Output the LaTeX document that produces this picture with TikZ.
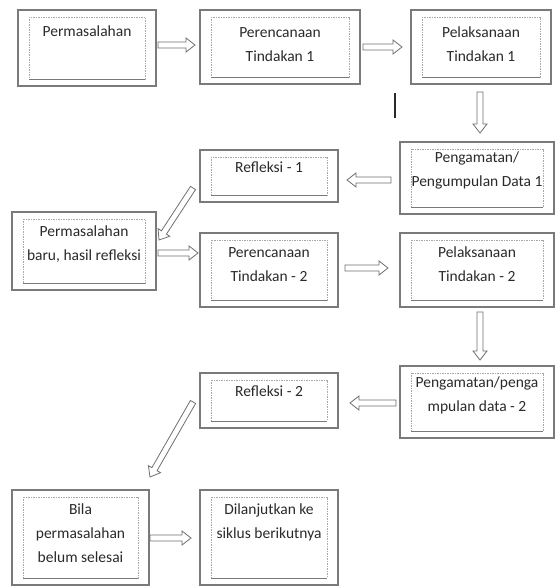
\documentclass[tikz,border=0pt]{standalone}
\usepackage{fontspec}
\setmainfont{Carlito}
\usetikzlibrary{calc}
\definecolor{boxgray}{HTML}{7A7A7A}
\definecolor{innergray}{HTML}{A8A8A8}
\definecolor{textgray}{HTML}{2A2A2A}
\definecolor{arrowgray}{HTML}{707070}
\tikzset{
  outerbox/.style={draw=boxgray, line width=1.2pt, inner sep=0pt, outer sep=0pt, rectangle},
  innerbox/.style={draw=innergray, line width=0.5pt, dash pattern=on 1.5pt off 1pt},
  innerbottom/.style={draw=boxgray, line width=0.8pt},
  txt/.style={font=\fontsize{15.5}{24}\selectfont, align=center, inner sep=0pt, text=textgray},
  blockarrow/.style={draw=arrowgray, fill=white, line width=0.8pt, line join=miter,
    to path={let \p1=(\tikztostart), \p2=(\tikztotarget),
      \n1={atan2(\y2-\y1,\x2-\x1)}, \n2={veclen(\x2-\x1,\y2-\y1)} in
      (\p1) ++(\n1+90:3) -- ++(\n1:\n2-9) -- ++(\n1+90:4) -- (\p2)
      -- ($(\p1)+(\n1:\n2-9)+(\n1-90:7)$) -- ++(\n1+90:4)
      -- ($(\p1)+(\n1-90:3)$) -- cycle}}
}
\newcommand\mkbox[7]{%
  \node[outerbox, minimum width={#4-#2}, minimum height={#5-#3}] (#1) at ({(#2+#4)/2},{586-(#3+#5)/2}) {};
  \draw[innerbox] ([shift={(11,-7)}]#1.north west) rectangle ([shift={(-11,7)}]#1.south east);
  \draw[innerbottom] ([shift={(11,7)}]#1.south west) -- ([shift={(-11,7)}]#1.south east);
  \node[txt, anchor=north] (#1-t) at ({(#2+#4)/2},{586-(#7-6)}) {#6};
}
\begin{document}
\begin{tikzpicture}[x=1pt,y=1pt]
\useasboundingbox[fill=white] (0,0) rectangle (555,586);

\mkbox{perm}{18}{10}{156}{86}{Permasalahan}{32}
\mkbox{per1}{200}{10}{360}{84}{Perencanaan\\Tindakan 1}{33}
\mkbox{pel1}{411}{10}{551}{84}{Pelaksanaan\\Tindakan 1}{33}
\mkbox{refl1}{200}{150}{338}{202}{Refleksi - 1}{168}
\mkbox{pg1}{400}{142}{554}{214}{Pengamatan/\\Pengumpulan Data 1}{158}
\mkbox{baru}{12}{212}{156}{290}{Permasalahan\\baru, hasil refleksi}{232}
\mkbox{per2}{200}{233}{338}{307}{Perencanaan\\Tindakan - 2}{253}
\mkbox{pel2}{400}{233}{554}{307}{Pelaksanaan\\Tindakan - 2}{253}
\mkbox{refl2}{200}{373}{338}{428}{Refleksi - 2}{392}
\mkbox{pg2}{400}{366}{554}{438}{Pengamatan/penga\\mpulan data - 2}{383}
\mkbox{bila}{12}{490}{149}{585}{Bila\\permasalahan\\belum selesai}{510}
\mkbox{dil}{200}{490}{338}{585}{Dilanjutkan ke\\siklus berikutnya}{510}

% stray mark
\draw[draw=textgray, line width=1.6pt] (395,{586-93}) -- (395,{586-118});

% connectors
\draw[blockarrow] ([shift={(2,3)}]perm.east) to ([shift={(-5,2)}]per1.west);
\draw[blockarrow] ([shift={(3,0)}]per1.east) to ([shift={(-9,0)}]pel1.west);
\draw[blockarrow] ([shift={(-1,-8)}]pel1.south) to ([shift={(3,9)}]pg1.north);
\draw[blockarrow] ([shift={(-9,-2)}]pg1.west) to ([shift={(9,-4)}]refl1.east);
\draw[blockarrow] ([shift={(-7,14)}]refl1.south west) to ([shift={(3,-28)}]baru.north east);
\draw[blockarrow] ([shift={(2,-2)}]baru.east) to ([shift={(-2,17)}]per2.west);
\draw[blockarrow] ([shift={(7,2)}]per2.east) to ([shift={(-12,2)}]pel2.west);
\draw[blockarrow] ([shift={(3,-5)}]pel2.south) to ([shift={(3,6)}]pg2.north);
\draw[blockarrow] ([shift={(-4,-1)}]pg2.west) to ([shift={(12,-2.5)}]refl2.east);
\draw[blockarrow] ([shift={(-7,26)}]refl2.south west) to ([shift={(1,13)}]bila.north east);
\draw[blockarrow] ([shift={(1,-0.5)}]bila.east) to ([shift={(-9,-0.5)}]dil.west);
\end{tikzpicture}
\end{document}
